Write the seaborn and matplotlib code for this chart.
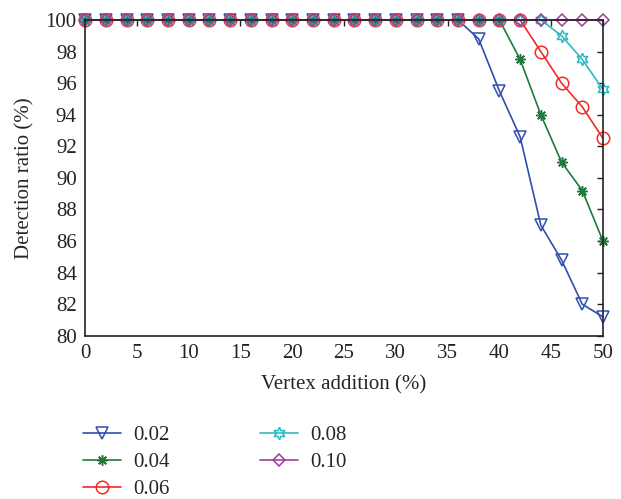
import numpy as np
import pandas as pd
import matplotlib
matplotlib.use("Agg")
import matplotlib.pyplot as plt
import seaborn as sns

# Vertex addition levels (%)
vertex_addition = [0, 2, 4, 6, 8, 10, 12, 14, 16, 18, 20, 22, 24, 26,
                   28, 30, 32, 34, 36, 38, 40, 42, 44, 46, 48, 50]

# Detection ratio (%) per threshold
ratio_002 = [100] * 19 + [98.8, 95.5, 92.6, 87.0, 84.8, 82.0, 81.2]
ratio_004 = [100] * 21 + [97.5, 94.0, 91.0, 89.2, 86.0]
ratio_006 = [100] * 22 + [98.0, 96.0, 94.5, 92.5]
ratio_008 = [100] * 23 + [99.0, 97.5, 95.6]
ratio_010 = [100] * 26

series_labels = ["0.02", "0.04", "0.06", "0.08", "0.10"]
series_values = [ratio_002, ratio_004, ratio_006, ratio_008, ratio_010]

colors = ["#2f4fb0", "#1d7a3c", "#f22a2a", "#2fb9c2", "#a03ca0"]
markers = ["v", (8, 2, 0), "o", (6, 1, 0), "D"]
sizes = [9, 7.5, 9, 9, 6.5]

sns.set_theme(style="white")
plt.rcParams["font.family"] = ["Liberation Serif", "DejaVu Serif"]

df = pd.concat(
    [pd.DataFrame({"x": vertex_addition, "y": vals, "series": lab})
     for lab, vals in zip(series_labels, series_values)],
    ignore_index=True,
)

fig = plt.figure(figsize=(6.21, 4.99), dpi=100)
ax = fig.add_axes([0.137, 0.327, 0.834, 0.633])

for lab, col, mk, ms in zip(series_labels, colors, markers, sizes):
    sub = df[df["series"] == lab]
    sns.lineplot(data=sub, x="x", y="y", ax=ax, color=col, marker=mk,
                 markersize=ms, markerfacecolor="none", markeredgecolor=col,
                 markeredgewidth=1.1, linewidth=1.2, label=lab, clip_on=False)

ax.set_xlim(0, 50)
ax.set_ylim(80, 100)
ax.set_xticks(np.arange(0, 51, 5))
ax.set_yticks(np.arange(80, 101, 2))
ax.set_xlabel("Vertex addition (%)", fontsize=15, labelpad=9)
ax.set_ylabel("Detection ratio (%)", fontsize=15, labelpad=8)
ax.tick_params(direction="in", length=4, width=1, top=True, right=True,
               labelsize=15, colors="#222222", pad=6)
for sp in ax.spines.values():
    sp.set_color("#222222")
    sp.set_linewidth(1.2)
    sp.set_visible(True)

handles, labels = ax.get_legend_handles_labels()
ax.legend(handles, labels, ncol=2, loc="upper left",
          bbox_to_anchor=(-0.02, -0.257), frameon=False, fontsize=15,
          handlelength=1.8, columnspacing=4.35, labelspacing=0.36,
          handletextpad=0.6, borderaxespad=0)

fig.savefig("out.png", dpi=100)
